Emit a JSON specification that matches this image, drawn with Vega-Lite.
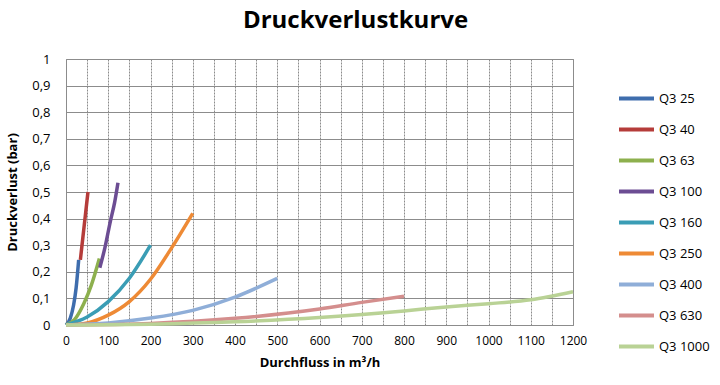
{
  "$schema": "https://vega.github.io/schema/vega-lite/v6.json",
  "width": 507,
  "height": 266,
  "autosize": {"type": "none"},
  "padding": {"left": 66, "top": 59, "right": 147, "bottom": 60},
  "background": "white",
  "title": {
    "text": "Druckverlustkurve",
    "font": "Open Sans",
    "fontSize": 24,
    "fontWeight": "bold",
    "color": "#000000",
    "anchor": "middle",
    "offset": 20,
    "frame": "group",
    "dx": 36
  },
  "config": {
    "view": {"stroke": "#8c8c8c", "strokeWidth": 1},
    "font": "Open Sans"
  },
  "data": {
    "values": [
      {"s": "Q3 25", "q": 0, "p": 0},
      {"s": "Q3 25", "q": 10, "p": 0.025},
      {"s": "Q3 25", "q": 18, "p": 0.075},
      {"s": "Q3 25", "q": 24, "p": 0.14},
      {"s": "Q3 25", "q": 30, "p": 0.245},
      {"s": "Q3 40", "q": 34, "p": 0.245},
      {"s": "Q3 40", "q": 40, "p": 0.33},
      {"s": "Q3 40", "q": 46, "p": 0.415},
      {"s": "Q3 40", "q": 52, "p": 0.5},
      {"s": "Q3 63", "q": 0, "p": 0},
      {"s": "Q3 63", "q": 20, "p": 0.02},
      {"s": "Q3 63", "q": 42, "p": 0.08},
      {"s": "Q3 63", "q": 60, "p": 0.15},
      {"s": "Q3 63", "q": 79, "p": 0.25},
      {"s": "Q3 100", "q": 80, "p": 0.215},
      {"s": "Q3 100", "q": 92, "p": 0.29},
      {"s": "Q3 100", "q": 105, "p": 0.39},
      {"s": "Q3 100", "q": 115, "p": 0.46},
      {"s": "Q3 100", "q": 123, "p": 0.535},
      {"s": "Q3 160", "q": 0, "p": 0},
      {"s": "Q3 160", "q": 50, "p": 0.03},
      {"s": "Q3 160", "q": 100, "p": 0.088},
      {"s": "Q3 160", "q": 150, "p": 0.176},
      {"s": "Q3 160", "q": 200, "p": 0.3},
      {"s": "Q3 250", "q": 0, "p": 0},
      {"s": "Q3 250", "q": 50, "p": 0.008},
      {"s": "Q3 250", "q": 100, "p": 0.037},
      {"s": "Q3 250", "q": 150, "p": 0.088},
      {"s": "Q3 250", "q": 200, "p": 0.172},
      {"s": "Q3 250", "q": 250, "p": 0.29},
      {"s": "Q3 250", "q": 300, "p": 0.42},
      {"s": "Q3 400", "q": 0, "p": 0},
      {"s": "Q3 400", "q": 100, "p": 0.008},
      {"s": "Q3 400", "q": 200, "p": 0.026},
      {"s": "Q3 400", "q": 300, "p": 0.055},
      {"s": "Q3 400", "q": 400, "p": 0.105},
      {"s": "Q3 400", "q": 500, "p": 0.175},
      {"s": "Q3 630", "q": 0, "p": 0},
      {"s": "Q3 630", "q": 200, "p": 0.006},
      {"s": "Q3 630", "q": 400, "p": 0.025},
      {"s": "Q3 630", "q": 600, "p": 0.06},
      {"s": "Q3 630", "q": 700, "p": 0.085},
      {"s": "Q3 630", "q": 800, "p": 0.108},
      {"s": "Q3 1000", "q": 0, "p": 0},
      {"s": "Q3 1000", "q": 200, "p": 0.003},
      {"s": "Q3 1000", "q": 400, "p": 0.012},
      {"s": "Q3 1000", "q": 600, "p": 0.028},
      {"s": "Q3 1000", "q": 800, "p": 0.053},
      {"s": "Q3 1000", "q": 900, "p": 0.068},
      {"s": "Q3 1000", "q": 1000, "p": 0.08},
      {"s": "Q3 1000", "q": 1100, "p": 0.095},
      {"s": "Q3 1000", "q": 1200, "p": 0.125}
    ]
  },
  "mark": {"type": "line", "strokeWidth": 3.5, "strokeCap": "butt", "strokeJoin": "round", "interpolate": "monotone"},
  "encoding": {
    "x": {
      "field": "q",
      "type": "quantitative",
      "scale": {"domain": [0, 1200], "nice": false},
      "axis": {
        "title": "Durchfluss in m³/h",
        "titleFont": "Open Sans",
        "titleFontSize": 13,
        "titleFontWeight": "bold",
        "titleColor": "#000000",
        "titlePadding": 10,
        "values": [0, 50, 100, 150, 200, 250, 300, 350, 400, 450, 500, 550, 600, 650, 700, 750, 800, 850, 900, 950, 1000, 1050, 1100, 1150, 1200],
        "labelExpr": "datum.value % 100 == 0 ? datum.label : ''",
        "format": "d",
        "labelFont": "Open Sans",
        "labelFontSize": 12,
        "labelColor": "#000000",
        "labelPadding": 10,
        "labelFlush": false,
        "labelOverlap": false,
        "ticks": false,
        "domain": false,
        "grid": true,
        "gridColor": "#8c8c8c",
        "gridDash": [2, 1],
        "gridOpacity": 1,
        "gridWidth": 1
      }
    },
    "y": {
      "field": "p",
      "type": "quantitative",
      "scale": {"domain": [0, 1], "nice": false},
      "axis": {
        "title": "Druckverlust (bar)",
        "titleFont": "Open Sans",
        "titleFontSize": 13,
        "titleFontWeight": "bold",
        "titleColor": "#000000",
        "titlePadding": 12,
        "values": [0, 0.1, 0.2, 0.3, 0.4, 0.5, 0.6, 0.7, 0.8, 0.9, 1],
        "labelExpr": "replace(format(datum.value, '.1~f'), '.', ',')",
        "labelFont": "Open Sans",
        "labelFontSize": 13,
        "labelColor": "#000000",
        "labelPadding": 16,
        "labelFlush": false,
        "ticks": false,
        "domain": false,
        "grid": true,
        "gridColor": "#8c8c8c",
        "gridOpacity": 1,
        "gridWidth": 1
      }
    },
    "color": {
      "field": "s",
      "type": "nominal",
      "scale": {
        "domain": ["Q3 25", "Q3 40", "Q3 63", "Q3 100", "Q3 160", "Q3 250", "Q3 400", "Q3 630", "Q3 1000"],
        "range": ["#3E6DAD", "#B53C3A", "#8DB04E", "#6C4D93", "#3A9DB5", "#EE8A35", "#8FAED8", "#D48E8D", "#B9D295"]
      },
      "legend": {
        "title": null,
        "orient": "none",
        "legendX": 551,
        "legendY": 24,
        "symbolType": "stroke",
        "symbolSize": 1225,
        "symbolStrokeWidth": 4,
        "clipHeight": 31,
        "rowPadding": 0,
        "labelOffset": 3,
        "labelFont": "Open Sans",
        "labelFontSize": 13,
        "labelColor": "#000000",
        "padding": 0
      }
    }
  }
}
